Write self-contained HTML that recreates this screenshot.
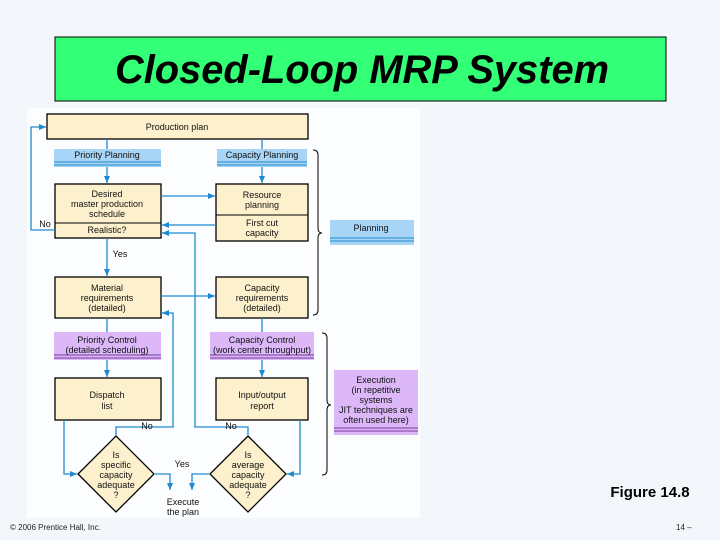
<!DOCTYPE html>
<html><head><meta charset="utf-8"><style>
html,body{margin:0;padding:0;}
body{width:720px;height:540px;background:#f3f7fc;position:relative;overflow:hidden;font-family:"Liberation Sans",sans-serif;}
</style></head><body>
<svg width="720" height="540" viewBox="0 0 720 540" xmlns="http://www.w3.org/2000/svg" style="position:absolute;left:0;top:0">
<defs>
<marker id="a" markerWidth="8" markerHeight="8" refX="7" refY="4" orient="auto" markerUnits="userSpaceOnUse">
<path d="M0,1 L7,4 L0,7 Z" fill="#1e8ad0"/></marker>
</defs>
<rect x="55" y="37" width="611" height="64" fill="#33ff77" stroke="#000" stroke-width="1"/>
<text x="362" y="83" text-anchor="middle" font-size="40" font-weight="bold" font-style="italic" fill="#000" textLength="494" lengthAdjust="spacingAndGlyphs">Closed-Loop MRP System</text>
<rect x="27" y="108" width="393" height="410" fill="#fcfdff"/>
<g font-size="9" fill="#111" text-anchor="middle">
<g fill="#a8d4f5"><rect x="54" y="149" width="107" height="18"/><rect x="217" y="149" width="90" height="18"/><rect x="330" y="220" width="84" height="25"/></g>
<g stroke="#1e8ad0" stroke-width="1"><line x1="54" y1="162" x2="161" y2="162"/><line x1="54" y1="165" x2="161" y2="165"/><line x1="217" y1="162" x2="307" y2="162"/><line x1="217" y1="165" x2="307" y2="165"/><line x1="330" y1="238" x2="414" y2="238"/><line x1="330" y1="241" x2="414" y2="241"/></g>
<g fill="#dcb8f8"><rect x="54" y="332" width="107" height="28"/><rect x="210" y="332" width="104" height="28"/><rect x="334" y="370" width="84" height="65"/></g>
<g stroke="#7a3a9a" stroke-width="1"><line x1="54" y1="355" x2="161" y2="355"/><line x1="54" y1="358" x2="161" y2="358"/><line x1="210" y1="355" x2="314" y2="355"/><line x1="210" y1="358" x2="314" y2="358"/><line x1="334" y1="428" x2="418" y2="428"/><line x1="334" y1="431" x2="418" y2="431"/></g>
<g fill="#fdf0cc" stroke="#000" stroke-width="1.3">
<rect x="47" y="114" width="261" height="25"/>
<rect x="55" y="184" width="106" height="54"/>
<rect x="216" y="184" width="92" height="57"/>
<rect x="55" y="277" width="106" height="41"/>
<rect x="216" y="277" width="92" height="41"/>
<rect x="55" y="378" width="106" height="42"/>
<rect x="216" y="378" width="92" height="42"/>
<path d="M116,436 L154,474 L116,512 L78,474 Z"/>
<path d="M248,436 L286,474 L248,512 L210,474 Z"/>
</g>
<g stroke="#000" stroke-width="1"><line x1="55" y1="223" x2="161" y2="223"/><line x1="216" y1="215" x2="308" y2="215"/></g>
<g stroke="#1e8ad0" stroke-width="1.3" fill="none">
<line x1="107" y1="139" x2="107" y2="149"/><line x1="262" y1="139" x2="262" y2="149"/>
<line x1="107" y1="167" x2="107" y2="183" marker-end="url(#a)"/>
<line x1="262" y1="167" x2="262" y2="183" marker-end="url(#a)"/>
<line x1="161" y1="196" x2="215" y2="196" marker-end="url(#a)"/>
<line x1="216" y1="225" x2="162" y2="225" marker-end="url(#a)"/>
<polyline points="55,230 31,230 31,127 46,127" marker-end="url(#a)"/>
<line x1="107" y1="238" x2="107" y2="276" marker-end="url(#a)"/>
<line x1="161" y1="296" x2="215" y2="296" marker-end="url(#a)"/>
<line x1="107" y1="318" x2="107" y2="332"/><line x1="262" y1="318" x2="262" y2="332"/>
<line x1="107" y1="360" x2="107" y2="377" marker-end="url(#a)"/>
<line x1="262" y1="360" x2="262" y2="377" marker-end="url(#a)"/>
<polyline points="64,420 64,474 77,474" marker-end="url(#a)"/>
<polyline points="300,420 300,474 287,474" marker-end="url(#a)"/>
<polyline points="116,436 116,427 173,427 173,313 162,313" marker-end="url(#a)"/>
<polyline points="248,436 248,427 195,427 195,233 162,233" marker-end="url(#a)"/>
<polyline points="154,474 170,474 170,490" marker-end="url(#a)"/>
<polyline points="210,474 192,474 192,490" marker-end="url(#a)"/>
</g>
<g stroke="#000" stroke-width="1" fill="none">
<path d="M313,150 Q318,150 318,155 L318,228 Q318,233 322,233 Q318,233 318,238 L318,310 Q318,315 313,315"/>
<path d="M322,333 Q327,333 327,338 L327,400 Q327,405 331,405 Q327,405 327,410 L327,470 Q327,475 322,475"/>
</g>
<text x="177" y="130">Production plan</text>
<text x="107" y="158">Priority Planning</text>
<text x="262" y="158">Capacity Planning</text>
<text x="107" y="197">Desired</text><text x="107" y="207">master production</text><text x="107" y="217">schedule</text>
<text x="107" y="233">Realistic?</text>
<text x="262" y="198">Resource</text><text x="262" y="208">planning</text>
<text x="262" y="226">First cut</text><text x="262" y="236">capacity</text>
<text x="45" y="227">No</text>
<text x="120" y="257">Yes</text>
<text x="371" y="231">Planning</text>
<text x="107" y="291">Material</text><text x="107" y="301">requirements</text><text x="107" y="311">(detailed)</text>
<text x="262" y="291">Capacity</text><text x="262" y="301">requirements</text><text x="262" y="311">(detailed)</text>
<text x="107" y="343">Priority Control</text><text x="107" y="353">(detailed scheduling)</text>
<text x="262" y="343">Capacity Control</text><text x="262" y="353">(work center throughput)</text>
<text x="107" y="398">Dispatch</text><text x="107" y="409">list</text>
<text x="262" y="398">Input/output</text><text x="262" y="409">report</text>
<text x="376" y="383">Execution</text><text x="376" y="393">(in repetitive</text><text x="376" y="403">systems</text><text x="376" y="413">JIT techniques are</text><text x="376" y="423">often used here)</text>
<text x="147" y="429">No</text><text x="231" y="429">No</text>
<text x="116" y="458">Is</text><text x="116" y="468">specific</text><text x="116" y="478">capacity</text><text x="116" y="488">adequate</text><text x="116" y="498">?</text>
<text x="248" y="458">Is</text><text x="248" y="468">average</text><text x="248" y="478">capacity</text><text x="248" y="488">adequate</text><text x="248" y="498">?</text>
<text x="182" y="467">Yes</text>
<text x="183" y="505">Execute</text><text x="183" y="515">the plan</text>
</g>
<text x="650" y="497" text-anchor="middle" font-size="15" font-weight="bold" fill="#000">Figure 14.8</text>
<text x="10" y="530" font-size="8" fill="#222">© 2006 Prentice Hall, Inc.</text>
<text x="676" y="530" font-size="8" fill="#222">14 –</text>
</svg>
</body></html>
